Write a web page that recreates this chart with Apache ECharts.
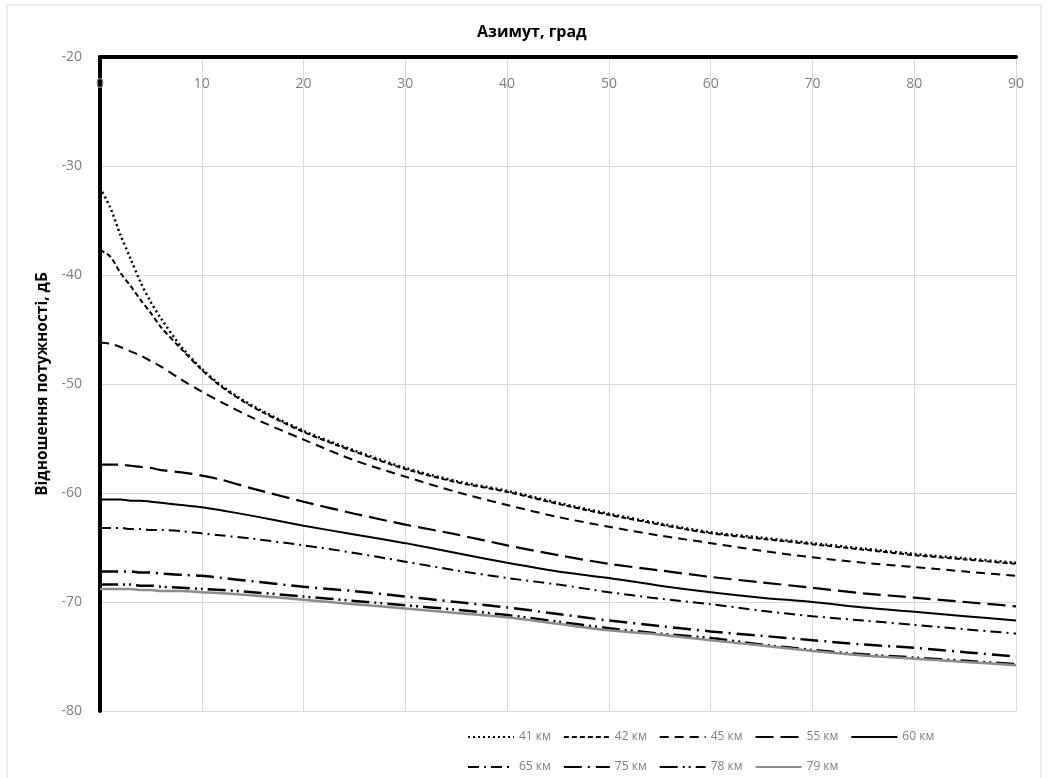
<!DOCTYPE html>
<html>
<head>
<meta charset="utf-8">
<script src="https://cdn.jsdelivr.net/npm/echarts@6/dist/echarts.min.js"></script>
<style>
  html, body { margin: 0; padding: 0; background: #fff; }
  #chart { width: 1048px; height: 778px; }
</style>
</head>
<body>
<div id="chart"></div>
<script>
// азимут, град
const azimuth = [0, 1, 2, 3, 4, 5, 6, 8, 10, 12, 15, 20, 25, 30, 35, 40, 45, 50, 55, 60, 65, 70, 75, 80, 85, 90]

// відношення потужності, дБ
const km41 = [-32.0, -33.8, -36.3, -38.5, -40.7, -42.5, -44.0, -46.6, -48.6, -50.2, -52.0, -54.3, -56.1, -57.7, -58.9, -59.8, -60.9, -61.9, -62.8, -63.6, -64.1, -64.6, -65.1, -65.6, -66.0, -66.4]
const km42 = [-37.7, -38.3, -39.8, -41.0, -42.3, -43.5, -44.8, -46.8, -48.7, -50.3, -52.1, -54.4, -56.2, -57.8, -59.0, -59.9, -61.0, -62.0, -62.9, -63.7, -64.2, -64.7, -65.2, -65.7, -66.1, -66.5]
const km45 = [-46.2, -46.3, -46.6, -47.0, -47.4, -47.9, -48.4, -49.6, -50.7, -51.7, -53.1, -55.1, -57.0, -58.5, -59.9, -61.1, -62.2, -63.1, -63.9, -64.6, -65.3, -65.9, -66.4, -66.8, -67.2, -67.6]
const km55 = [-57.4, -57.4, -57.4, -57.5, -57.6, -57.7, -57.9, -58.1, -58.4, -58.8, -59.6, -60.8, -61.9, -62.9, -63.8, -64.8, -65.7, -66.5, -67.1, -67.7, -68.2, -68.7, -69.2, -69.6, -70.0, -70.4]
const km60 = [-60.6, -60.6, -60.6, -60.7, -60.7, -60.8, -60.9, -61.1, -61.3, -61.6, -62.1, -63.0, -63.8, -64.6, -65.5, -66.4, -67.2, -67.8, -68.5, -69.1, -69.6, -70.0, -70.5, -70.9, -71.3, -71.7]
const km65 = [-63.2, -63.2, -63.2, -63.3, -63.3, -63.4, -63.4, -63.5, -63.7, -63.9, -64.2, -64.8, -65.5, -66.3, -67.1, -67.8, -68.4, -69.1, -69.7, -70.2, -70.8, -71.3, -71.7, -72.1, -72.5, -72.9]
const km75 = [-67.2, -67.2, -67.2, -67.2, -67.3, -67.3, -67.4, -67.5, -67.6, -67.8, -68.1, -68.6, -69.0, -69.5, -70.0, -70.5, -71.1, -71.7, -72.2, -72.7, -73.1, -73.5, -73.9, -74.2, -74.6, -75.0]
const km78 = [-68.4, -68.4, -68.4, -68.4, -68.5, -68.5, -68.6, -68.7, -68.8, -68.9, -69.1, -69.5, -69.9, -70.3, -70.7, -71.2, -71.8, -72.4, -72.9, -73.3, -73.9, -74.4, -74.8, -75.1, -75.4, -75.7]
const km79 = [-68.8, -68.8, -68.8, -68.8, -68.9, -68.9, -69.0, -69.0, -69.1, -69.2, -69.4, -69.8, -70.2, -70.6, -71.0, -71.4, -72.0, -72.6, -73.0, -73.5, -74.0, -74.5, -74.9, -75.2, -75.5, -75.8]

const names = ['41 км', '42 км', '45 км', '55 км', '60 км', '65 км', '75 км', '78 км', '79 км']
const values = [km41, km42, km45, km55, km60, km65, km75, km78, km79]

// стилі ліній, як в оригіналі
const styles = [
  { type: [2, 3], width: 2.5, color: '#000' },
  { type: [5, 3], width: 2, color: '#000' },
  { type: [9, 6], width: 2, color: '#000' },
  { type: [18, 7], width: 2.2, color: '#000' },
  { type: 'solid', width: 2, color: '#000' },
  { type: [11, 5, 2, 5], width: 2, color: '#000' },
  { type: [18, 6, 2, 6], width: 2.5, color: '#000' },
  { type: [18, 5, 2, 4, 2, 5], width: 2.5, color: '#000' },
  { type: 'solid', width: 2.5, color: '#8c8c8c' }
]

const font = 'Open Sans'
const gray = '#7f7f7f'

let series = []
names.forEach((name, i) => {
  series.push({
    name: name,
    type: 'line',
    smooth: 0.3,
    symbol: 'none',
    color: styles[i].color,
    lineStyle: styles[i],
    data: azimuth.map((a, j) => [a, values[i][j]])
  })
})

const legendBase = {
  left: 462,
  itemWidth: 46,
  itemHeight: 12,
  itemGap: 12,
  itemStyle: { opacity: 0 },
  textStyle: { fontFamily: font, fontSize: 12, color: gray, width: 38 }
}

let option = {
  animation: false,
  backgroundColor: '#fff',
  title: {
    text: 'Азимут, град',
    left: 472,
    top: 19,
    textStyle: { fontFamily: font, fontSize: 16, fontWeight: 'bold', color: '#000' }
  },
  legend: [
    Object.assign({}, legendBase, { top: 726, data: names.slice(0, 5) }),
    Object.assign({}, legendBase, { top: 756, data: names.slice(5) })
  ],
  grid: { left: 100, top: 57, right: 32, bottom: 67 },
  xAxis: {
    type: 'value',
    position: 'top',
    min: 0,
    max: 90,
    interval: 10,
    axisLine: { onZero: false, lineStyle: { color: '#000', width: 4 } },
    axisTick: { show: false },
    axisLabel: { inside: true, margin: 20, fontFamily: font, fontSize: 14, color: gray },
    splitLine: { lineStyle: { color: '#d9d9d9', width: 1 } }
  },
  yAxis: {
    type: 'value',
    min: -80,
    max: -20,
    interval: 10,
    name: 'Відношення потужності, дБ',
    nameLocation: 'middle',
    nameGap: 48,
    nameTextStyle: { fontFamily: font, fontSize: 15.5, fontWeight: 'bold', color: '#000' },
    axisLine: { show: true, onZero: false, lineStyle: { color: '#000', width: 4 } },
    axisTick: { show: false },
    axisLabel: { margin: 18, fontFamily: font, fontSize: 14, color: gray },
    splitLine: { lineStyle: { color: '#d9d9d9', width: 1 } }
  },
  graphic: [{
    type: 'rect',
    shape: { x: 7, y: 5, width: 1034, height: 780 },
    style: { fill: 'none', stroke: '#d9d9d9', lineWidth: 1 },
    silent: true
  }],
  series: series
}

let chart = echarts.init(document.getElementById('chart'))
chart.setOption(option)
</script>
</body>
</html>
